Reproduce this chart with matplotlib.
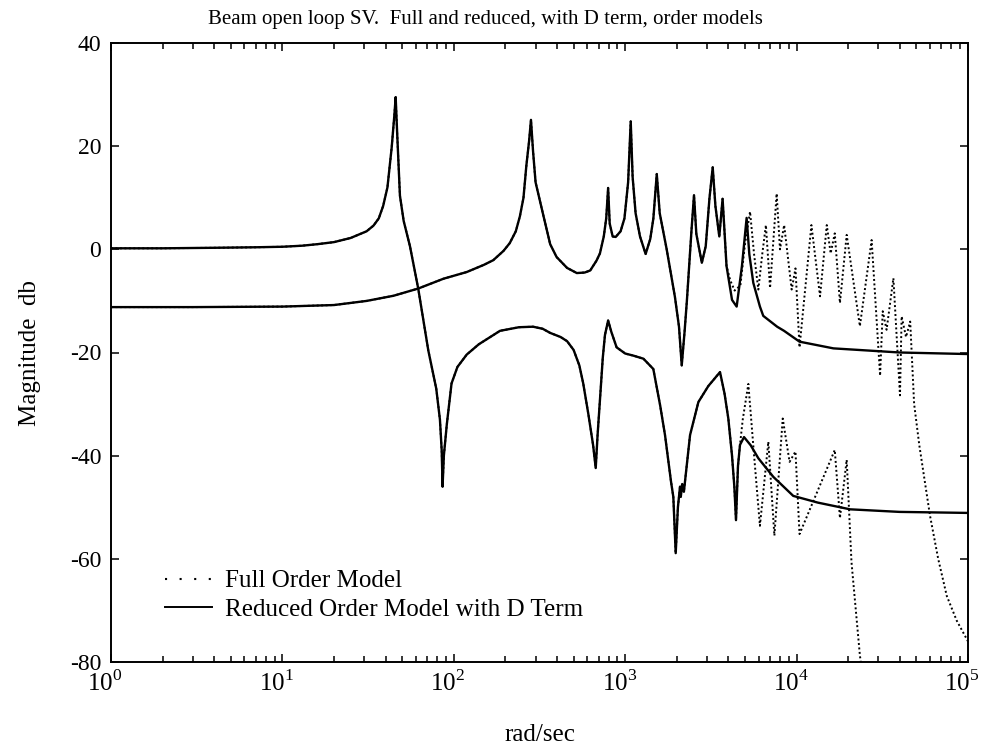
import matplotlib
matplotlib.use("Agg")
import matplotlib.pyplot as plt
from matplotlib.lines import Line2D
from matplotlib.ticker import FixedLocator, FuncFormatter
from matplotlib.transforms import ScaledTranslation

plt.rcParams["font.family"] = ["Liberation Serif", "DejaVu Serif"]
plt.rcParams["mathtext.fontset"] = "custom"
plt.rcParams["mathtext.rm"] = "Liberation Serif"
plt.rcParams["axes.unicode_minus"] = False

# singular value branch that ends near -51 dB (reduced order model)
freq_a = [1, 2, 4, 7, 10, 13, 16, 20, 25, 31, 34, 36.5, 38.7, 41, 43.4, 45, 45.8,
          46.8, 48.5, 51, 55.5, 62, 71, 79, 83, 85, 86, 87.5, 91, 97, 105, 119,
          140, 186, 240, 290, 330, 365, 420, 458, 500, 540, 569, 610, 650, 673,
          690, 713, 740, 762, 795, 830, 891, 1000, 1114, 1277, 1459, 1600, 1707,
          1850, 1909, 1971, 2030, 2089, 2110, 2150, 2200, 2250, 2390, 2673, 3055,
          3574, 3800, 3996, 4200, 4333, 4430, 4550, 4675, 4935, 5400, 5980, 7310,
          9560, 13300, 20500, 39800, 100000]
mag_a = [0.2, 0.2, 0.3, 0.4, 0.5, 0.7, 1.0, 1.4, 2.2, 3.5, 4.6, 6.0, 8.4, 12.0,
         19.7, 26.0, 29.5, 22.0, 10.4, 5.5, 0.6, -7.6, -19.6, -27.0, -33.0, -39.0,
         -46.0, -40.0, -34.0, -26.0, -22.8, -20.4, -18.4, -15.8, -15.1, -15.0,
         -15.4, -16.2, -17.0, -17.8, -19.5, -22.5, -26.0, -32.0, -38.0, -42.4,
         -36.0, -29.0, -21.0, -16.6, -13.8, -16.0, -19.0, -20.2, -20.6, -21.2,
         -23.2, -30.3, -36.0, -45.0, -48.0, -58.9, -50.0, -46.0, -48.0, -45.5,
         -47.0, -44.0, -36.0, -29.6, -26.5, -23.8, -28.0, -32.8, -40.0, -46.0,
         -52.5, -42.0, -37.9, -36.4, -38.0, -40.5, -44.1, -47.8, -49.1, -50.4,
         -50.9, -51.1]

# singular value branch that ends near -20 dB (reduced order model)
freq_b = [1, 3, 10, 20, 31, 44.5, 62, 87, 119, 150, 170, 195, 212, 230, 243, 255,
          265, 275, 282, 290, 300, 334, 365, 398, 458, 522, 580, 625, 680, 712,
          750, 775, 795, 812, 845, 880, 940, 990, 1040, 1077, 1105, 1150, 1220,
          1316, 1400, 1460, 1528, 1590, 1746, 1950, 2060, 2137, 2220, 2290, 2430,
          2520, 2600, 2800, 2950, 3100, 3240, 3360, 3540, 3700, 3900, 4200, 4470,
          4800, 5110, 5300, 5590, 6110, 6390, 7700, 8450, 10400, 16400, 40000,
          100000]
mag_b = [-11.2, -11.2, -11.1, -10.8, -10.0, -9.0, -7.6, -5.7, -4.4, -3.0, -2.1,
         -0.3, 1.2, 3.5, 6.4, 10.0, 16.2, 21.0, 25.1, 19.0, 13.0, 6.4, 1.0, -1.5,
         -3.6, -4.6, -4.5, -4.1, -2.2, -0.8, 2.5, 6.0, 11.9, 5.0, 2.5, 2.4, 3.5,
         6.0, 13.0, 24.8, 14.0, 7.0, 2.5, -0.9, 2.0, 6.0, 14.6, 7.0, 0.0, -9.2,
         -15.0, -22.5, -16.0, -10.0, 3.1, 10.5, 3.0, -2.6, 0.6, 9.8, 15.9, 8.4,
         2.5, 9.8, -3.2, -9.8, -11.1, -3.2, 6.1, -1.0, -6.5, -11.1, -12.9, -15.0,
         -15.8, -17.9, -19.2, -20.0, -20.3]

# full order model, where it leaves the reduced model
full_a_freq = [4850, 5230, 5650, 6110, 6840, 7420, 8300, 9100, 9850, 10400, 16700,
               17900, 19600, 20900, 23400, 25000]
full_a_mag = [-33.0, -26.1, -40.0, -53.6, -37.3, -55.5, -32.8, -41.2, -39.2,
              -55.2, -38.9, -52.1, -40.8, -60.6, -78.7, -86.0]
full_b_freq = [4100, 4350, 4700, 5000, 5350, 5650, 5980, 6300, 6620, 7000, 7650,
               8000, 8460, 9360, 9850, 10400, 12200, 13700, 15000, 15800, 16700,
               17900, 19600, 23400, 27400, 30700, 31800, 33500, 36700, 40100,
               41000, 43500, 46000, 48500, 52000, 60000, 67000, 75200, 86000,
               100000]
full_b_mag = [-6.0, -8.0, -7.0, 1.0, 7.3, -1.0, -7.8, -1.0, 4.7, -7.5, 10.8, 0.0,
              4.7, -7.8, -3.7, -19.0, 4.7, -9.1, 4.7, -0.8, 3.1, -10.4, 2.8,
              -14.9, 1.8, -24.5, -12.0, -15.6, -5.6, -28.3, -13.0, -17.0, -14.0,
              -30.0, -38.0, -51.6, -60.0, -67.2, -72.0, -76.0]

y_ticks = [-80, -60, -40, -20, 0, 20, 40]
x_ticks = [1, 10, 100, 1000, 10000, 100000]
x_labels = ["$10^0$", "$10^1$", "$10^2$", "$10^3$", "$10^4$", "$10^5$"]

# full order = reduced order at low frequency + measured high frequency part
fa_w = [w for w in freq_a if w < full_a_freq[0]] + full_a_freq
fa_m = [m for w, m in zip(freq_a, mag_a) if w < full_a_freq[0]] + full_a_mag
fb_w = [w for w in freq_b if w < full_b_freq[0]] + full_b_freq
fb_m = [m for w, m in zip(freq_b, mag_b) if w < full_b_freq[0]] + full_b_mag

fig = plt.figure(figsize=(9.82, 7.46), dpi=100)
ax = fig.add_axes([111 / 982, 1 - 662 / 746, 857 / 982, 619 / 746])

dots = (0, (1, 1.3))
ax.semilogx(fa_w, fa_m, color="black", lw=1.4, linestyle=dots)
ax.semilogx(fb_w, fb_m, color="black", lw=1.4, linestyle=dots)
ax.semilogx(freq_a, mag_a, color="black", lw=1.7)
ax.semilogx(freq_b, mag_b, color="black", lw=1.7)

ax.set_xlim(1, 1e5)
ax.set_ylim(-80, 40)
ax.set_xticks(x_ticks)
ax.set_xticklabels(x_labels)
ax.yaxis.set_major_locator(FixedLocator(y_ticks))
ax.yaxis.set_major_formatter(FuncFormatter(lambda v, p: "%d" % v))
ax.tick_params(which="both", direction="in", top=True, right=True, width=1.1)
ax.tick_params(which="major", length=6)
ax.tick_params(which="minor", length=4)
ax.tick_params(axis="y", labelsize=17, pad=7)
ax.tick_params(axis="x", labelsize=18, pad=6)
# x labels sit a little left of their ticks, as in the original
shift = ScaledTranslation(-0.06, 0, fig.dpi_scale_trans)
for lab in ax.get_xticklabels():
    lab.set_transform(lab.get_transform() + shift)
for s in ax.spines.values():
    s.set_linewidth(1.4)

ax.set_title("Beam open loop SV.  Full and reduced, with D term, order models",
             fontsize=15, x=0.437, pad=14)
ax.set_xlabel("rad/sec", fontsize=18)
ax.xaxis.set_label_coords(0.5, -0.1)
ax.set_ylabel("Magnitude  db", fontsize=18)
ax.yaxis.set_label_coords(-0.082, 0.5)

handles = [Line2D([], [], color="black", lw=1.5, linestyle=(0, (1, 6))),
           Line2D([], [], color="black", lw=1.4)]
ax.legend(handles, ["Full Order Model", "Reduced Order Model with D Term"],
          loc="lower left", bbox_to_anchor=(0.063, 0.066), frameon=False,
          fontsize=18, handlelength=1.9, handletextpad=0.5, borderpad=0,
          borderaxespad=0, labelspacing=0.25)

fig.savefig("out.png", dpi=100)
